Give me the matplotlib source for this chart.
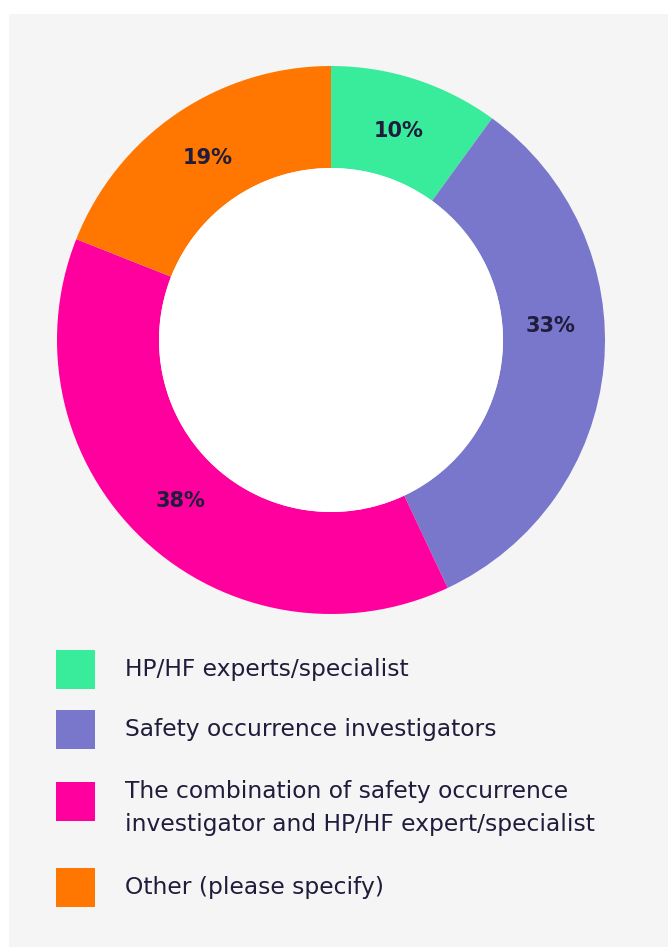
"""Donut chart: who carries out HP/HF analysis of safety occurrences."""
import numpy as np
import matplotlib
matplotlib.use("Agg")
import matplotlib.pyplot as plt
import matplotlib.patches as mpatches

C_BG = "#f5f5f5"
C_INK = "#1f1d3b"

labels = [
    "HP/HF experts/specialist",
    "Safety occurrence investigators",
    "The combination of safety occurrence\ninvestigator and HP/HF expert/specialist",
    "Other (please specify)",
]
values = [10, 33, 38, 19]
colors = ["#38ec9b", "#7877cc", "#ff009f", "#ff7700"]
# the "33%" label sits a bit above the wedge middle in the original
label_shift_deg = [0, 9, 0, 0]

plt.rcParams["font.family"] = ["DejaVu Sans"]

W, H = 668, 947
fig = plt.figure(figsize=(W / 100, H / 100), dpi=100)
fig.patch.set_facecolor("white")

# gray panel + hand-drawn legend, in pixel coordinates
base = fig.add_axes([0, 0, 1, 1], zorder=0)
base.set_xlim(0, W)
base.set_ylim(H, 0)
base.axis("off")
base.add_patch(mpatches.Rectangle((9, 14), W - 9, H - 14, facecolor=C_BG, edgecolor="none"))

box_tops = [650, 710, 782, 868]
text_y = [669, 729, 808, 887]
for lab, col, top, ty in zip(labels, colors, box_tops, text_y):
    base.add_patch(mpatches.Rectangle((56, top), 39, 39, facecolor=col, edgecolor="none"))
    base.text(125, ty, lab, ha="left", va="center", fontsize=16.8,
              color=C_INK, linespacing=1.55)

# donut: center (331, 340), outer radius 274 px
R = 274
ax = fig.add_axes([(331 - R) / W, 1 - (340 + R) / H, 2 * R / W, 2 * R / H], zorder=1)
ax.set_facecolor("none")
ring = 1 - 172 / 274
wedges, _, autotexts = ax.pie(
    values, colors=colors, startangle=90, counterclock=False,
    radius=1.0, wedgeprops=dict(width=ring, edgecolor="none"),
    autopct=lambda p: f"{p:.0f}%", pctdistance=1 - ring / 2,
    textprops=dict(color=C_INK, fontsize=15, fontweight="bold"),
)
r_lab = 1 - ring / 2 - 0.01
for w, t, sh in zip(wedges, autotexts, label_shift_deg):
    ang = np.deg2rad((w.theta1 + w.theta2) / 2 + sh)
    t.set_position((r_lab * np.cos(ang), r_lab * np.sin(ang)))
ax.add_patch(mpatches.Circle((0, 0), 1 - ring, facecolor="white", edgecolor="none", zorder=3))
ax.set_xlim(-1, 1)
ax.set_ylim(-1, 1)
ax.set_aspect("equal")
ax.axis("off")

fig.savefig("out.png", dpi=100, facecolor="white")
